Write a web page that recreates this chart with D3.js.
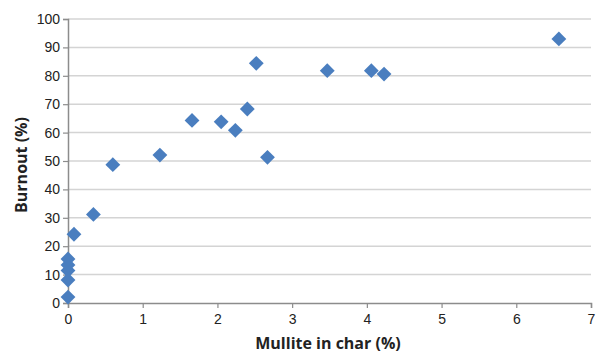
<!DOCTYPE html>
<html lang="en">
<head>
<meta charset="UTF-8">
<title>Burnout vs Mullite</title>
<script src="https://d3js.org/d3.v7.min.js"></script>
<style>
    body { margin: 0; background: #fff; }
    svg { display: block; font-family: 'Open Sans', sans-serif; }
    .tick text { font-size: 14px; fill: #222; }
    .axis-title { font-size: 16px; font-weight: bold; fill: #222; }
</style>
</head>
<body>
<svg width="596" height="354"></svg>
<script>
    // mullite in char (%) and burnout (%)
    const mullite = [0, 0, 0, 0, 0, 0.08, 0.34, 0.60, 1.23, 1.66, 2.05, 2.24, 2.40, 2.52, 2.67, 3.47, 4.06, 4.23, 6.57];
    const burnout = [2.1, 8.1, 11.4, 13.4, 15.5, 24.2, 31.2, 48.7, 52.1, 64.3, 63.8, 60.8, 68.3, 84.4, 51.3, 81.8, 81.8, 80.6, 93.0];
    const xTicks = [0, 1, 2, 3, 4, 5, 6, 7];
    const yTicks = [0, 10, 20, 30, 40, 50, 60, 70, 80, 90, 100];

    const svg = d3.select("svg");
    const margin = {top: 19, right: 5, bottom: 51, left: 68};
    const height = 354 - margin.top - margin.bottom;

    const g = svg.append("g").attr("transform", `translate(${margin.left},${margin.top})`);

    const x = d3.scaleLinear().domain([0, 7]).range([0, 523]);
    const y = d3.scaleLinear().domain([0, 100]).range([height, 0]);

    // gridlines
    g.append("g")
        .selectAll("line")
        .data(yTicks.slice(1))
        .join("line")
        .attr("x1", 0)
        .attr("x2", x(7))
        .attr("y1", d => y(d))
        .attr("y2", d => y(d))
        .attr("stroke", "#d4d4d4")
        .attr("stroke-width", 1.5);

    const yAxis = g.append("g")
        .call(d3.axisLeft(y).tickValues(yTicks).tickFormat(d3.format("d")).tickSize(5).tickPadding(3));
    const xAxis = g.append("g")
        .attr("transform", `translate(0,${height})`)
        .call(d3.axisBottom(x).tickValues(xTicks).tickFormat(d3.format("d")).tickSize(5).tickPadding(6));

    [xAxis, yAxis].forEach(a => {
        a.select(".domain").attr("stroke", "#8c8c8c").attr("stroke-width", 1.5);
        a.selectAll(".tick line").attr("stroke", "#8c8c8c").attr("stroke-width", 1.2);
    });

    const points = mullite.map((m, i) => ({m, b: burnout[i]}));

    g.append("g")
        .selectAll("path")
        .data(points)
        .join("path")
        .attr("d", d3.symbol(d3.symbolDiamond2, 140))
        .attr("transform", d => `translate(${x(d.m)},${y(d.b)})`)
        .attr("fill", "#4a7ebf");

    svg.append("text")
        .attr("class", "axis-title")
        .attr("x", 328)
        .attr("y", 349)
        .attr("text-anchor", "middle")
        .text("Mullite in char (%)");

    svg.append("text")
        .attr("class", "axis-title")
        .attr("transform", `translate(27,165) rotate(-90)`)
        .attr("text-anchor", "middle")
        .text("Burnout (%)");
</script>
</body>
</html>
